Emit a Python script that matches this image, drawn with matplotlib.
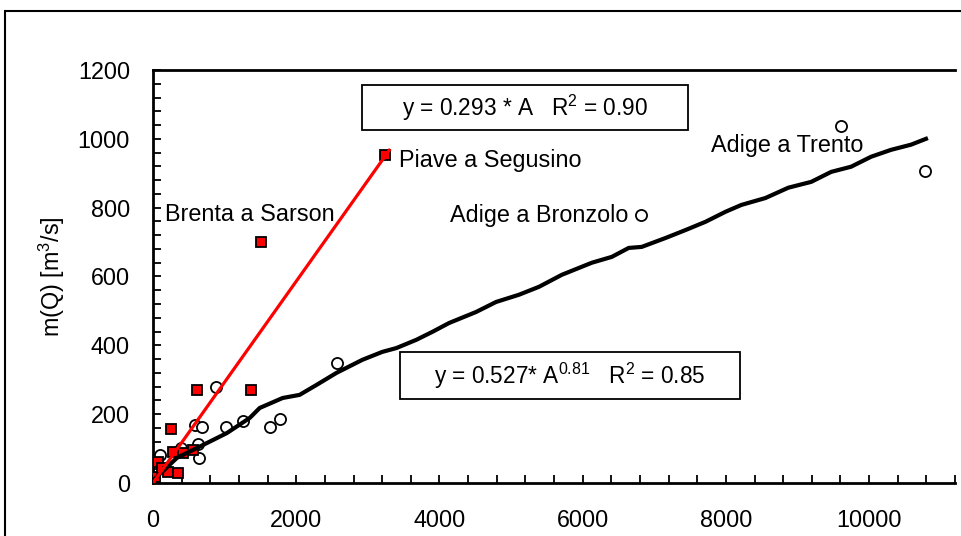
import numpy as np
import matplotlib
matplotlib.use("Agg")
import matplotlib.pyplot as plt
from matplotlib.patches import Rectangle
from matplotlib.ticker import MultipleLocator

plt.rcParams['font.family'] = ['Liberation Sans', 'DejaVu Sans']
plt.rcParams['mathtext.fontset'] = 'custom'
plt.rcParams['mathtext.rm'] = 'Liberation Sans'

FS = 16.8

# catchment area A [km2] and mean annual flood m(Q) [m3/s]
area_obs = [20, 97, 390, 585, 627, 641, 682, 880, 1017, 1253, 1630, 1769, 2563,
            6810, 9610, 10780]
q_obs = [15, 81, 102, 169, 113, 73, 163, 279, 163, 180, 163, 186, 349,
         779, 1038, 907]

area_red = [28, 70, 125, 209, 348, 250, 279, 418, 557, 613, 1365, 1504, 3245]
q_red = [17, 61, 44, 32, 29, 157, 90, 87, 96, 270, 270, 700, 953]

# regional curve y = 0.527*A^0.81
area_fit = [10, 334, 752, 1031, 1351, 1490, 1811, 2047, 2284, 2563, 2925, 3203,
            3398, 3677, 3900, 4136, 4513, 4791, 5111, 5390, 5710, 6128, 6407,
            6643, 6825, 7159, 7437, 7716, 7994, 8217, 8552, 8872, 9192, 9471,
            9749, 10028, 10306, 10585, 10794]
q_fit = [9, 73, 116, 145, 189, 218, 247, 256, 285, 320, 358, 381, 392, 416,
         439, 465, 497, 526, 547, 570, 605, 640, 657, 683, 686, 712, 735, 759,
         788, 808, 828, 858, 875, 904, 919, 948, 968, 983, 1000]

slope_red = 0.293
area_red_line = [0, 3300]

labels = ["Brenta a Sarson", "Piave a Segusino", "Adige a Bronzolo", "Adige a Trento"]
label_pos = [(167, 779), (3440, 936), (4150, 776), (7786, 980)]

fig = plt.figure(figsize=(9.61, 5.36), dpi=100)
ax = fig.add_axes([0.1592, 0.0989, 0.8346, 0.7705])

ax.plot(area_obs, q_obs, 'o', ms=8, mfc='white', mec='black', mew=1.3, zorder=3)
ax.plot(area_red, q_red, 's', ms=7.5, mfc='red', mec='black', mew=1.3, zorder=3)
ax.plot(area_fit, q_fit, '-', color='black', lw=3, zorder=4)
ax.plot(area_red_line, [slope_red * a for a in area_red_line], '-', color='red',
        lw=2.3, zorder=5)

for s, (x, y) in zip(labels, label_pos):
    ax.text(x, y, s, fontsize=FS, ha='left', va='center', zorder=6)

# equation boxes
for (x0, y0, w, h), s in [((362, 85, 326, 45), r"y = 0.293 * A   R$\mathregular{^2}$ = 0.90"),
                          ((400, 352, 340, 47), r"y = 0.527* A$\mathregular{^{0.81}}$   R$\mathregular{^2}$ = 0.85")]:
    fig.patches.append(Rectangle((x0 / 961, 1 - (y0 + h) / 536), w / 961, h / 536,
                                 transform=fig.transFigure, fill=True, fc='white',
                                 ec='black', lw=1.3, zorder=10))
    fig.text((x0 + w / 2) / 961, 1 - (y0 + h / 2) / 536, s, fontsize=16.3,
             ha='center', va='center', zorder=11)

ax.set_xlim(0, 11200)
ax.set_ylim(0, 1200)
ax.xaxis.set_major_locator(MultipleLocator(2000))
ax.xaxis.set_minor_locator(MultipleLocator(400))
ax.yaxis.set_major_locator(MultipleLocator(200))
ax.yaxis.set_minor_locator(MultipleLocator(40))
ax.tick_params(which='both', direction='in', width=1.3, labelsize=FS)
ax.tick_params(which='both', length=6)
ax.tick_params(axis='y', pad=16.5)
ax.tick_params(axis='x', pad=19)

for side in ['left', 'bottom', 'top']:
    ax.spines[side].set_linewidth(2)
ax.spines['right'].set_visible(False)

ax.set_ylabel(r"m(Q) [m$\mathregular{^3}$/s]", fontsize=FS, labelpad=8)

# outer frame
fig.patches.append(Rectangle((5 / 961, -0.1), 1.2, 1.1 - 11 / 536,
                             transform=fig.transFigure, fill=False, ec='black', lw=1.5))

fig.savefig("out.png", dpi=100)
